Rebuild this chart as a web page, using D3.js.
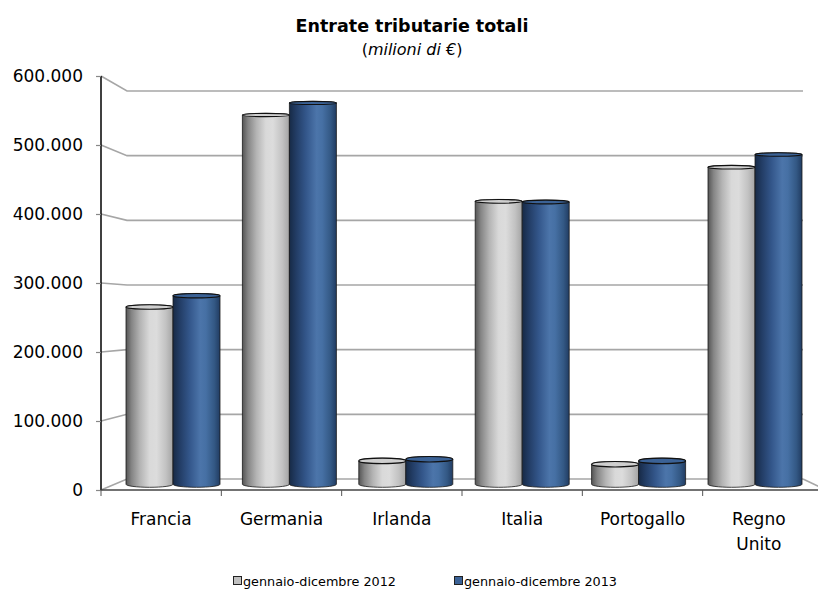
<!DOCTYPE html>
<html>
<head>
<meta charset="utf-8">
<script src="https://cdn.jsdelivr.net/npm/d3@7"></script>
<style>
  html, body { margin: 0; padding: 0; background: #fff; }
  svg { display: block; font-family: "DejaVu Sans", Verdana, sans-serif; }
</style>
</head>
<body>
<svg id="chart" width="818" height="590"></svg>
<script>
// Data: total tax revenue, millions of euro
const categories = ["Francia", "Germania", "Irlanda", "Italia", "Portogallo", "Regno Unito"];
const values2012 = [265000, 552000, 35000, 423000, 30000, 474000];
const values2013 = [282000, 570000, 37500, 422000, 35000, 493000];
const seriesNames = ["gennaio-dicembre 2012", "gennaio-dicembre 2013"];
const yTicks = [0, 100000, 200000, 300000, 400000, 500000, 600000];

const svg = d3.select("#chart");
const W = 818, H = 590;
svg.append("rect").attr("width", W).attr("height", H).attr("fill", "#fff");

const it = d3.formatLocale({ decimal: ",", thousands: ".", grouping: [3], currency: ["", " €"] });
const fmt = it.format(",d");

// Three depth planes of the 3-D box: front (axis), middle (bars), back wall
const yFront = d3.scaleLinear().domain([0, 600000]).range([490, 76]);
const yBack  = d3.scaleLinear().domain([0, 600000]).range([479, 91]);
const yBar   = d3.scaleLinear().domain([0, 600000]).range([484.3, 484.3 - 6 * 66.9]);

const xFront = d3.scaleBand().domain(categories).range([101, 823]);
const xBar   = d3.scaleBand().domain(categories).range([114.8, 813.2]);
const xSeries = d3.scaleBand().domain([0, 1]).range([11.2, xBar.bandwidth() - 11.2]);

const backLeft = 127, backRight = 803;

// Gridlines: short receding segment from the axis, then along the back wall
const grid = svg.append("g");
yTicks.forEach(v => {
  grid.append("path")
    .attr("d", `M${xFront.range()[0]},${yFront(v)} L${backLeft},${yBack(v)} L${backRight},${yBack(v)}`)
    .attr("fill", "none")
    .attr("stroke", "#a6a6a6")
    .attr("stroke-width", 1.6);
});
// right edge of the floor
grid.append("line")
  .attr("x1", backRight).attr("y1", yBack(0))
  .attr("x2", 830).attr("y2", yFront(0) + 2)
  .attr("stroke", "#a6a6a6").attr("stroke-width", 1.6);

// Cylinder gradients
const defs = svg.append("defs");
function gradient(id, stops) {
  const g = defs.append("linearGradient").attr("id", id)
    .attr("x1", 0).attr("x2", 1).attr("y1", 0).attr("y2", 0);
  stops.forEach(([o, c]) => g.append("stop").attr("offset", o).attr("stop-color", c));
}
gradient("grayBody", [[0, "#555555"], [0.12, "#858585"], [0.3, "#b4b4b4"], [0.5, "#d9d9d9"], [0.65, "#dcdcdc"], [0.85, "#c2c2c2"], [1, "#a4a4a4"]]);
gradient("blueBody", [[0, "#172a46"], [0.14, "#223c64"], [0.35, "#33568a"], [0.58, "#4c75aa"], [0.7, "#4670a4"], [0.88, "#335884"], [1, "#213c62"]]);

const seriesStyle = [
  { body: "url(#grayBody)", top: "#cfcfcf", values: values2012 },
  { body: "url(#blueBody)", top: "#3b6296", values: values2013 }
];

const ryTop = d3.scaleLinear().domain([0, 600000]).range([2.8, 1.5]);
const ryBottom = 3;

const bars = svg.append("g");
categories.forEach((cat, i) => {
  seriesStyle.forEach((s, j) => {
    const v = s.values[i];
    const x0 = xBar(cat) + xSeries(j);
    const x1 = x0 + xSeries.bandwidth();
    const rx = (x1 - x0) / 2;
    const yb = yBar(0), yt = yBar(v);
    const rt = ryTop(v);
    bars.append("path")
      .attr("d", `M${x0},${yt} L${x0},${yb} A${rx},${ryBottom} 0 0 0 ${x1},${yb} L${x1},${yt} A${rx},${rt} 0 0 0 ${x0},${yt} Z`)
      .attr("fill", s.body)
      .attr("stroke", "#1a1a1a")
      .attr("stroke-width", 0.8);
    bars.append("ellipse")
      .attr("cx", x0 + rx).attr("cy", yt)
      .attr("rx", rx).attr("ry", rt)
      .attr("fill", s.top)
      .attr("stroke", "#111")
      .attr("stroke-width", 1.1);
  });
});

// Value axis on the front-left edge
const yAxis = d3.axisLeft(yFront).tickValues(yTicks).tickFormat(fmt).tickSize(5).tickPadding(13);
const ya = svg.append("g").attr("transform", `translate(${xFront.range()[0]},0)`).call(yAxis);
ya.select(".domain").attr("stroke", "#000").attr("stroke-width", 1.5).attr("d", `M0,${yFront(600000)}V${yFront(0)}`);
ya.selectAll(".tick line").attr("stroke", "#888").attr("stroke-width", 1.2);
ya.selectAll(".tick text").attr("font-size", 17).attr("fill", "#000")
  .attr("font-family", "DejaVu Sans, Verdana, sans-serif");

// Category axis on the front floor edge
const xa = svg.append("g");
xa.append("line")
  .attr("x1", xFront.range()[0]).attr("x2", xFront.range()[1])
  .attr("y1", yFront(0)).attr("y2", yFront(0))
  .attr("stroke", "#444").attr("stroke-width", 1.5);
const bounds = categories.map(c => xFront(c)).concat([xFront.range()[1]]);
bounds.forEach(x => {
  xa.append("line").attr("x1", x).attr("x2", x)
    .attr("y1", yFront(0)).attr("y2", yFront(0) + 6)
    .attr("stroke", "#555").attr("stroke-width", 1);
});
categories.forEach(cat => {
  const lines = cat === "Regno Unito" ? ["Regno", "Unito"] : [cat];
  const t = xa.append("text")
    .attr("x", xFront(cat) + xFront.bandwidth() / 2 - (cat === "Regno Unito" ? 4 : 0))
    .attr("y", 525)
    .attr("text-anchor", "middle")
    .attr("font-size", 17)
    .attr("fill", "#000");
  lines.forEach((l, k) => t.append("tspan")
    .attr("x", t.attr("x"))
    .attr("dy", k === 0 ? 0 : 25)
    .text(l));
});

// Title
svg.append("text")
  .attr("x", 412).attr("y", 32)
  .attr("text-anchor", "middle")
  .attr("font-size", 17.5).attr("font-weight", "bold")
  .text("Entrate tributarie totali");
const sub = svg.append("text")
  .attr("x", 412).attr("y", 55)
  .attr("text-anchor", "middle")
  .attr("font-size", 16);
sub.append("tspan").text("(");
sub.append("tspan").attr("font-style", "italic").text("milioni di €");
sub.append("tspan").text(")");

// Legend
const legendX = [233, 454];
const legendFill = ["#c0c0c0", "#3b6296"];
seriesNames.forEach((name, k) => {
  const g = svg.append("g").attr("transform", `translate(${legendX[k]},576)`);
  g.append("rect").attr("x", 0.5).attr("y", 0.5).attr("width", 8).attr("height", 8)
    .attr("fill", legendFill[k]).attr("stroke", "#222").attr("stroke-width", 1);
  g.append("text").attr("x", 10).attr("y", 9.5)
    .attr("font-size", 12.8).attr("fill", "#000").text(name);
});
</script>
</body>
</html>
